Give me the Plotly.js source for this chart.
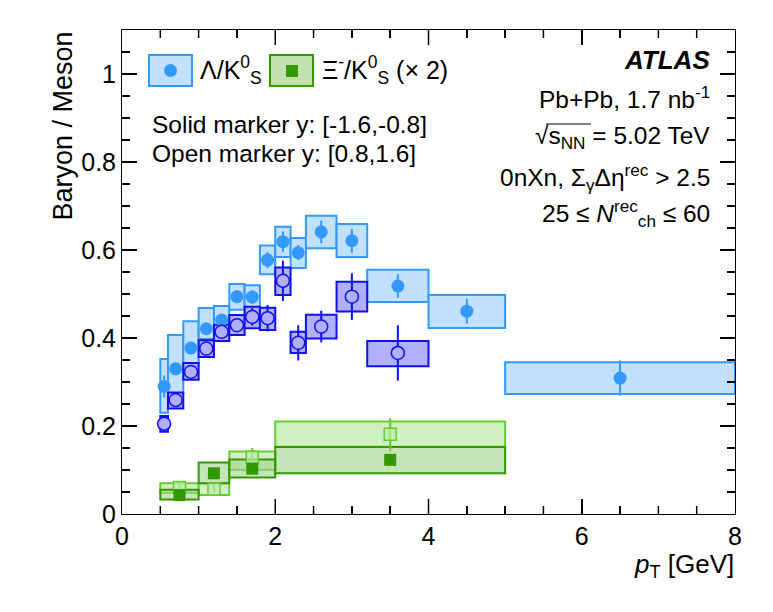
<!DOCTYPE html>
<html>
<head>
<meta charset="utf-8">
<script src="https://cdn.plot.ly/plotly-3.0.1.min.js"></script>
<style>
  body { margin: 0; background: #fff; }
  #chart { width: 773px; height: 612px; }
</style>
</head>
<body>
<div id="chart"></div>
<script>
// Lambda/K0S bins (pT centres and bin widths, GeV)
const lamX = [0.55, 0.7, 0.9, 1.1, 1.3, 1.5, 1.7, 1.9, 2.1, 2.3, 2.6, 3.0, 3.6, 4.5, 6.5];
const lamW = [0.1, 0.2, 0.2, 0.2, 0.2, 0.2, 0.2, 0.2, 0.2, 0.2, 0.4, 0.4, 0.8, 1.0, 3.0];

// solid markers, y in [-1.6,-0.8]
const lamSolid = [0.29, 0.33, 0.377, 0.421, 0.441, 0.494, 0.493, 0.577, 0.619, 0.594, 0.641, 0.621, 0.518, 0.461, 0.309];
const lamSolidStat = [0.025, 0.012, 0.012, 0.012, 0.012, 0.015, 0.015, 0.018, 0.023, 0.017, 0.026, 0.027, 0.027, 0.028, 0.04];
const lamSolidSysLo = [0.23, 0.275, 0.343, 0.398, 0.41, 0.464, 0.464, 0.545, 0.584, 0.559, 0.604, 0.584, 0.482, 0.423, 0.273];
const lamSolidSysHi = [0.352, 0.407, 0.438, 0.468, 0.473, 0.523, 0.52, 0.61, 0.653, 0.627, 0.678, 0.659, 0.555, 0.498, 0.345];

// open markers, y in [0.8,1.6] (only up to 4 GeV)
const lamOpenX = lamX.slice(0, 13);
const lamOpenW = lamW.slice(0, 13);
const lamOpen = [0.205, 0.259, 0.323, 0.376, 0.414, 0.429, 0.448, 0.445, 0.53, 0.389, 0.426, 0.494, 0.366];
const lamOpenStat = [0.01, 0.01, 0.01, 0.01, 0.012, 0.015, 0.02, 0.03, 0.046, 0.04, 0.036, 0.053, 0.063];
const lamOpenSysLo = [0.187, 0.24, 0.305, 0.357, 0.393, 0.407, 0.422, 0.418, 0.498, 0.366, 0.399, 0.46, 0.336];
const lamOpenSysHi = [0.223, 0.276, 0.343, 0.395, 0.43, 0.452, 0.471, 0.469, 0.56, 0.414, 0.453, 0.528, 0.393];

// Xi-/K0S (x2) bins
const xiX = [0.75, 1.2, 1.7, 3.5];
const xiW = [0.5, 0.4, 0.6, 3.0];

const xiSolid = [0.043, 0.0925, 0.103, 0.123];
const xiSolidStat = [0.005, 0.006, 0.008, 0.012];
const xiSolidSysLo = [0.033, 0.07, 0.083, 0.0925];
const xiSolidSysHi = [0.055, 0.117, 0.124, 0.152];

const xiOpen = [0.06, 0.057, 0.129, 0.181];
const xiOpenStat = [0.013, 0.008, 0.021, 0.037];
const xiOpenSysLo = [0.048, 0.043, 0.1, 0.153];
const xiOpenSysHi = [0.07, 0.07, 0.142, 0.21];

const FONT = "Liberation Sans, Arial, Helvetica, sans-serif";

// colours
const lamSolidCol = "#3399ff", lamSolidFill = "#c2e0ff";
const lamOpenCol = "#1010f0", lamOpenFill = "#b0b0ff";
const xiSolidCol = "#339900", xiSolidFill = "rgba(160,210,140,0.6)";
const xiOpenCol = "#66cc33", xiOpenFill = "rgba(190,235,170,0.7)";

const height = (hi, lo) => hi.map((h, i) => h - lo[i]);

// systematic boxes
const sysBox = (x, w, lo, hi, fill, edge) => ({
  type: "bar",
  x: x,
  width: w,
  base: lo,
  y: height(hi, lo),
  marker: { color: fill, line: { color: edge, width: 2 } }
});

// markers with statistical errors
const points = (x, y, stat, symbol, size, fill, edge, lw) => ({
  type: "scatter",
  mode: "markers",
  x: x,
  y: y,
  error_y: { type: "data", array: stat, visible: true, width: 0, thickness: 2, color: edge },
  marker: { symbol: symbol, size: size, color: fill, line: { color: edge, width: lw } }
});

const data = [
  sysBox(lamX, lamW, lamSolidSysLo, lamSolidSysHi, lamSolidFill, lamSolidCol),
  sysBox(lamOpenX, lamOpenW, lamOpenSysLo, lamOpenSysHi, lamOpenFill, lamOpenCol),
  sysBox(xiX, xiW, xiOpenSysLo, xiOpenSysHi, xiOpenFill, xiOpenCol),
  sysBox(xiX, xiW, xiSolidSysLo, xiSolidSysHi, xiSolidFill, xiSolidCol),
  points(lamX, lamSolid, lamSolidStat, "circle", 13, lamSolidCol, lamSolidCol, 0),
  points(lamOpenX, lamOpen, lamOpenStat, "circle", 13, lamOpenFill, lamOpenCol, 1.5),
  points(xiX, xiOpen, xiOpenStat, "square", 12, xiOpenFill, xiOpenCol, 1.5),
  points(xiX, xiSolid, xiSolidStat, "square", 12, xiSolidCol, xiSolidCol, 0)
];

// pixel -> paper helpers (plot area 122..735 x 30..514)
const L = 122, R = 735, T = 30, B = 514;
const px = (v) => (v - L) / (R - L);
const py = (v) => (B - v) / (B - T);

const txt = (x, y, text, anchor, size, extra) => Object.assign({
  xref: "paper", yref: "paper",
  x: px(x), y: py(y),
  xanchor: anchor, yanchor: "middle",
  text: text, showarrow: false,
  font: { family: FONT, size: size, color: "#000" }
}, extra || {});

const annotations = [
  txt(62, 30, "Baryon / Meson", "center", 27, { yanchor: "top", textangle: -90 }),
  txt(736, 565, "<i>p</i><sub>T</sub> [GeV]", "right", 26),
  txt(198, 70, "Λ/K<sup>0</sup><sub>S</sub>", "left", 25),
  txt(320, 70, "Ξ<sup>-</sup>/K<sup>0</sup><sub>S</sub> (× 2)", "left", 25),
  txt(150, 125, "Solid marker y: [-1.6,-0.8]", "left", 24.5),
  txt(150, 153, "Open marker y: [0.8,1.6]", "left", 24.5),
  txt(712, 60, "<b><i>ATLAS</i></b>", "right", 26),
  txt(712, 97, "Pb+Pb, 1.7 nb<sup>-1</sup>", "right", 24.5),
  txt(712, 137, "√s<sub>NN</sub> = 5.02 TeV", "right", 24.5),
  txt(712, 177, "0nXn, Σ<sub>γ</sub>Δη<sup>rec</sup> > 2.5", "right", 24.5),
  txt(712, 213, "25 ≤ <i>N</i><sup>rec</sup><sub>ch</sub> ≤ 60", "right", 24.5)
];

const shapes = [
  { type: "rect", xref: "paper", yref: "paper", x0: px(149), x1: px(192), y0: py(86), y1: py(55),
    fillcolor: lamSolidFill, line: { color: lamSolidCol, width: 2 } },
  { type: "circle", xref: "paper", yref: "paper", x0: px(164), x1: px(177), y0: py(77), y1: py(64),
    fillcolor: lamSolidCol, line: { width: 0 } },
  { type: "rect", xref: "paper", yref: "paper", x0: px(270), x1: px(313), y0: py(86), y1: py(55),
    fillcolor: "#c0e0b0", line: { color: xiSolidCol, width: 2 } },
  { type: "rect", xref: "paper", yref: "paper", x0: px(286), x1: px(298), y0: py(77), y1: py(65),
    fillcolor: xiSolidCol, line: { width: 0 } },
  // overline of the square root
  { type: "line", xref: "paper", yref: "paper", x0: px(546), x1: px(591), y0: py(124), y1: py(124),
    line: { color: "#000", width: 1.2 } }
];

// frame tick marks on all four sides (ROOT style: inside, major + minor)
const tickLine = { color: "#000000", width: 1.5 };
const hLen = (n) => n / (B - T);
const wLen = (n) => n / (R - L);
for (let i = 1; i < 16; i++) {
  const v = i * 0.5;
  const len = i % 4 === 0 ? 15 : 8;
  shapes.push({ type: "line", layer: "above", xref: "paper", yref: "paper", x0: v / 8, x1: v / 8, y0: 0, y1: hLen(len), line: tickLine });
  shapes.push({ type: "line", layer: "above", xref: "paper", yref: "paper", x0: v / 8, x1: v / 8, y0: 1, y1: 1 - hLen(len), line: tickLine });
}
for (let i = 1; i < 22; i++) {
  const v = i * 0.05;
  const len = i % 4 === 0 ? 15 : 8;
  shapes.push({ type: "line", layer: "above", xref: "paper", yref: "paper", x0: 0, x1: wLen(len), y0: v / 1.1, y1: v / 1.1, line: tickLine });
  shapes.push({ type: "line", layer: "above", xref: "paper", yref: "paper", x0: 1, x1: 1 - wLen(len), y0: v / 1.1, y1: v / 1.1, line: tickLine });
}

const axisBase = {
  showline: true, linecolor: "#000", linewidth: 1, mirror: "allticks",
  ticks: "inside", ticklen: 15, tickwidth: 1.5, tickcolor: "#000000",
  showgrid: false, zeroline: false,
  tickfont: { family: FONT, size: 25, color: "#000" }
};

const layout = {
  width: 773, height: 612,
  margin: { l: L, r: 773 - R, t: T, b: 612 - B },
  barmode: "overlay",
  showlegend: false,
  xaxis: Object.assign({}, axisBase, {
    range: [0, 8], tickmode: "linear", tick0: 0, dtick: 2,
    minor: { dtick: 0.5, ticklen: 8, ticks: "inside", tickcolor: "#000000", tickwidth: 1.5 }
  }),
  yaxis: Object.assign({}, axisBase, {
    range: [0, 1.1], tickmode: "linear", tick0: 0, dtick: 0.2,
    minor: { dtick: 0.05, ticklen: 8, ticks: "inside", tickcolor: "#000000", tickwidth: 1.5 }
  }),
  annotations: annotations,
  shapes: shapes
};

Plotly.newPlot("chart", data, layout, { staticPlot: true });
</script>
</body>
</html>
